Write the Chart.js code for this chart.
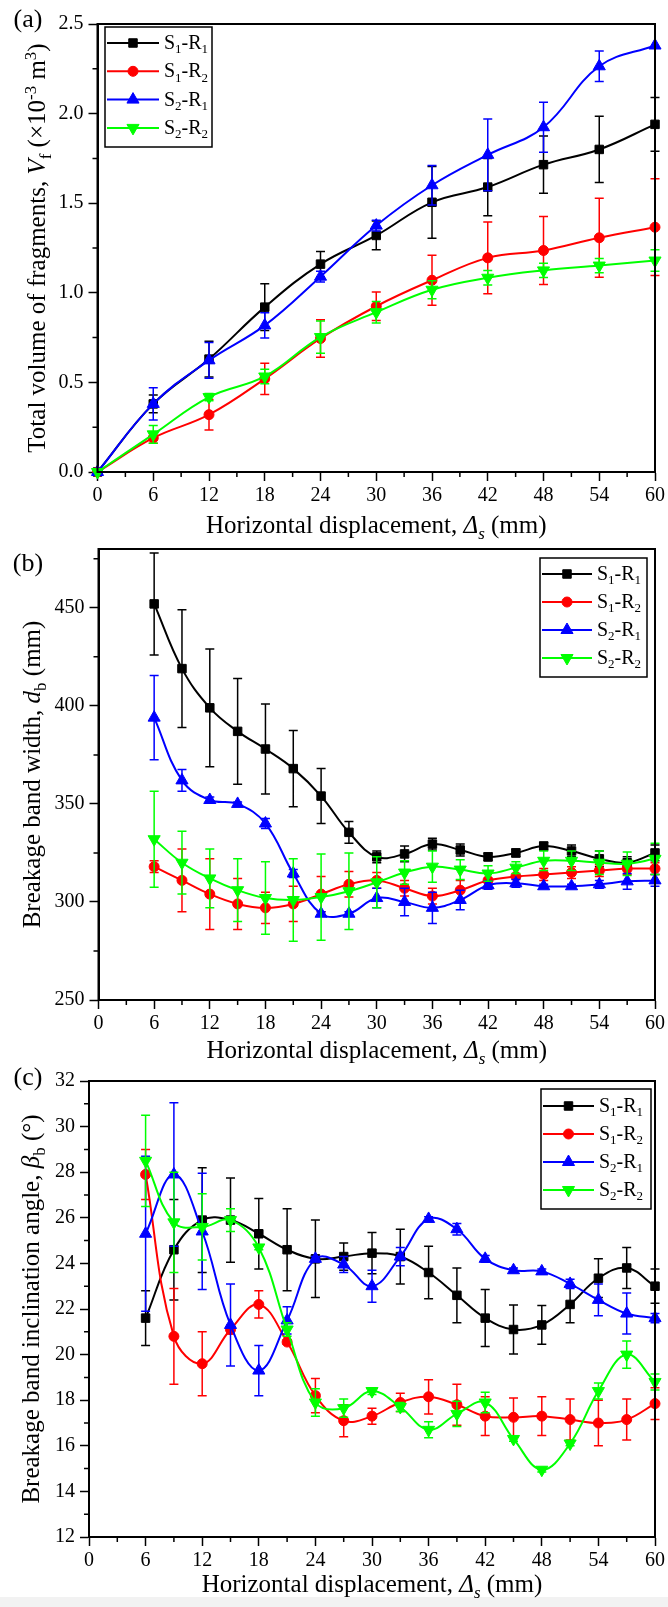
<!DOCTYPE html>
<html>
<head>
<meta charset="utf-8">
<script src="https://cdn.jsdelivr.net/npm/chart.js@4.4.0/dist/chart.umd.min.js"></script>
<style>
  html, body { margin: 0; padding: 0; background: #fff; }
  body { width: 668px; height: 1607px; position: relative; overflow: hidden; }
  canvas { position: absolute; left: 0; z-index: 1; }
  #foot { position: absolute; left: 0; top: 1597px; width: 668px; height: 10px; background: #f2f2f2; z-index: 0; }
</style>
</head>
<body>
<div id="foot"></div>
<canvas id="chartA" width="668" height="545" style="top:0px"></canvas>
<canvas id="chartB" width="668" height="545" style="top:525px"></canvas>
<canvas id="chartC" width="668" height="550" style="top:1057px"></canvas>
<script>
// -----------------------------
// Data
// -----------------------------
const xA = [0, 6, 12, 18, 24, 30, 36, 42, 48, 54, 60];
const xBC = [6, 9, 12, 15, 18, 21, 24, 27, 30, 33, 36, 39, 42, 45, 48, 51, 54, 57, 60];
const seriesNames = ['S1-R1', 'S1-R2', 'S2-R1', 'S2-R2'];

// (a) total volume of fragments (x10^-3 m^3)
const volS1R1 = [0, 0.38, 0.63, 0.92, 1.16, 1.32, 1.505, 1.59, 1.715, 1.80, 1.94];
const volS1R1Err = [0, 0.05, 0.10, 0.13, 0.07, 0.08, 0.20, 0.16, 0.16, 0.185, 0.15];
const volS1R2 = [0, 0.19, 0.32, 0.52, 0.745, 0.925, 1.07, 1.195, 1.236, 1.307, 1.366];
const volS1R2Err = [0, 0.03, 0.085, 0.087, 0.105, 0.08, 0.14, 0.20, 0.19, 0.22, 0.27];
const volS2R1 = [0, 0.38, 0.623, 0.818, 1.09, 1.375, 1.60, 1.77, 1.924, 2.264, 2.38];
const volS2R1Err = [0, 0.09, 0.10, 0.07, 0.03, 0.03, 0.11, 0.20, 0.14, 0.085, 0];
const volS2R2 = [0, 0.21, 0.418, 0.533, 0.753, 0.892, 1.017, 1.084, 1.125, 1.152, 1.18];
const volS2R2Err = [0, 0.05, 0.02, 0.04, 0.09, 0.06, 0.05, 0.04, 0.04, 0.04, 0.06];

// (b) breakage band width (mm)
const widS1R1 = [452, 419, 399, 387, 378, 368, 354, 335.5, 323, 324.5, 329.5, 326.5, 323, 325, 328.5, 326, 322, 320, 325];
const widS1R1Err = [26, 30, 30, 27, 23, 19.5, 14, 5.5, 3, 4, 3, 3, 2, 2, 2, 3, 4, 3, 4];
const widS1R2 = [318, 311, 304, 299, 297, 299, 304, 309, 311, 307, 303, 306, 311, 313, 314, 315, 316, 317, 317];
const widS1R2Err = [3, 16, 18, 13, 8, 9, 9, 6.5, 4, 4, 4, 5, 4, 4, 3, 3, 3, 3, 3];
const widS2R1 = [394, 362, 352, 350, 340, 314.5, 294, 294, 302, 300, 297, 301, 308.5, 309.5, 308, 308, 309, 310.5, 311];
const widS2R1Err = [21.5, 5.5, 1.5, 1, 2.5, 2, 1, 1, 5, 7, 8, 5, 2, 2, 1, 1, 2, 4, 3];
const widS2R2 = [332, 320, 312, 306, 302, 301, 302.5, 305.5, 310, 315, 318, 316.5, 314.5, 317.5, 321, 321, 320, 319.5, 322];
const widS2R2Err = [24.5, 16, 15, 16, 18.5, 21, 22, 19.5, 13, 6, 8, 5, 4, 3, 5, 5, 6, 6, 8];

// (c) breakage band inclination angle (deg)
const angS1R1 = [21.6, 24.6, 25.9, 25.9, 25.3, 24.6, 24.2, 24.3, 24.45, 24.3, 23.6, 22.6, 21.6, 21.1, 21.3, 22.2, 23.35, 23.8, 23.0];
const angS1R1Err = [1.2, 2.2, 2.3, 1.85, 1.55, 1.8, 1.7, 0.6, 0.9, 1.2, 1.15, 1.2, 1.25, 1.07, 0.85, 0.8, 0.85, 0.9, 0.75];
const angS1R2 = [27.9, 20.8, 19.6, 21.1, 22.2, 20.55, 18.2, 17.1, 17.3, 17.9, 18.15, 17.8, 17.3, 17.25, 17.3, 17.15, 17.0, 17.15, 17.85];
const angS1R2Err = [1.1, 2.1, 1.4, 0.2, 0.6, 0.1, 0.75, 0.7, 0.35, 0.4, 0.75, 0.9, 0.85, 0.85, 0.85, 0.9, 1.0, 0.9, 0.7];
const angS2R1 = [25.3, 27.9, 25.4, 21.3, 19.3, 21.5, 24.2, 23.95, 23.0, 24.3, 25.95, 25.5, 24.2, 23.7, 23.65, 23.1, 22.4, 21.8, 21.6];
const angS2R1Err = [3.4, 3.15, 2.55, 1.8, 1.1, 0.6, 0.1, 0.35, 0.7, 0.4, 0.1, 0.25, 0.15, 0.1, 0.1, 0.2, 0.7, 0.9, 0.2];
const angS2R2 = [28.5, 25.8, 25.6, 25.9, 24.7, 21.1, 17.9, 17.65, 18.4, 17.7, 16.7, 17.4, 17.9, 16.3, 14.95, 16.1, 18.4, 20.0, 18.8];
const angS2R2Err = [2.0, 2.2, 1.45, 0.5, 0.1, 0.3, 0.6, 0.4, 0.15, 0.2, 0.35, 0.55, 0.45, 0.1, 0.1, 0.1, 0.35, 0.6, 0.35];

// -----------------------------
// Styles
// -----------------------------
const serif = '"Liberation Serif", "Times New Roman", serif';
const styles = [
  { color: '#000000', shape: 'rect', r: 6, rot: 0 },
  { color: '#ff0000', shape: 'circle', r: 5, rot: 0 },
  { color: '#0000ff', shape: 'triangle', r: 7, rot: 0 },
  { color: '#00ff00', shape: 'triangle', r: 7, rot: 180 }
];

// rich text: [text, style] with style n | i | sub | subi | sup
function partFont(p, size) {
  const small = p[1] === 'sub' || p[1] === 'sup' || p[1] === 'subi';
  const it = p[1] === 'i' || p[1] === 'subi';
  return (it ? 'italic ' : '') + (small ? Math.round(size * 0.66) : size) + 'px ' + serif;
}
function richWidth(ctx, parts, size) {
  let w = 0;
  parts.forEach(p => { ctx.font = partFont(p, size); w += ctx.measureText(p[0]).width; });
  return w;
}
function drawRich(ctx, parts, size, x, y) {
  parts.forEach(p => {
    ctx.font = partFont(p, size);
    let dy = 0;
    if (p[1] === 'sub' || p[1] === 'subi') dy = size * 0.22;
    if (p[1] === 'sup') dy = -size * 0.38;
    ctx.fillText(p[0], x, y + dy);
    x += ctx.measureText(p[0]).width;
  });
}
function drawRichCentered(ctx, parts, size, cx, cy, vertical) {
  ctx.save();
  ctx.translate(cx, cy);
  if (vertical) ctx.rotate(-Math.PI / 2);
  ctx.textAlign = 'left';
  ctx.textBaseline = 'alphabetic';
  const w = richWidth(ctx, parts, size);
  drawRich(ctx, parts, size, -w / 2, size * 0.33);
  ctx.restore();
}

function drawMarker(ctx, st, x, y) {
  ctx.fillStyle = st.color;
  ctx.strokeStyle = st.color;
  ctx.lineWidth = 1;
  ctx.beginPath();
  if (st.shape === 'rect') {
    const h = st.r * Math.SQRT1_2;
    ctx.rect(x - h, y - h, 2 * h, 2 * h);
  } else if (st.shape === 'circle') {
    ctx.arc(x, y, st.r, 0, Math.PI * 2);
  } else {
    let rad = st.rot * Math.PI / 180;
    for (let k = 0; k < 3; k++) {
      const px = x + Math.sin(rad) * st.r, py = y - Math.cos(rad) * st.r;
      if (k === 0) ctx.moveTo(px, py); else ctx.lineTo(px, py);
      rad += Math.PI * 2 / 3;
    }
    ctx.closePath();
  }
  ctx.fill();
  ctx.stroke();
}

// -----------------------------
// Panel plugin: error bars, frame, minor ticks, titles, legend
// -----------------------------
const panelPlugin = {
  id: 'panel',
  beforeDatasetDraw(chart, args) {
    const ds = chart.data.datasets[args.index];
    const { ctx } = chart;
    const xs = chart.scales.x, ys = chart.scales.y;
    ctx.save();
    ctx.strokeStyle = ds.borderColor;
    ctx.lineWidth = 1.5;
    ctx.beginPath();
    ds.data.forEach((pt, j) => {
      const e = ds.errors[j];
      if (!e) return;
      const px = xs.getPixelForValue(pt.x);
      const y1 = ys.getPixelForValue(pt.y + e);
      const y2 = ys.getPixelForValue(pt.y - e);
      ctx.moveTo(px, y1); ctx.lineTo(px, y2);
      ctx.moveTo(px - 4.5, y1); ctx.lineTo(px + 4.5, y1);
      ctx.moveTo(px - 4.5, y2); ctx.lineTo(px + 4.5, y2);
    });
    ctx.stroke();
    ctx.restore();
  },
  afterDraw(chart) {
    const o = chart.options.plugins.panel;
    const { ctx, chartArea: a } = chart;
    const xs = chart.scales.x, ys = chart.scales.y;
    ctx.save();
    ctx.strokeStyle = '#000';
    ctx.lineWidth = 2;
    ctx.strokeRect(a.left, a.top, a.right - a.left, a.bottom - a.top);

    // minor ticks
    ctx.lineWidth = 1.5;
    ctx.beginPath();
    o.xMinor.forEach(v => {
      const px = xs.getPixelForValue(v);
      ctx.moveTo(px, a.bottom); ctx.lineTo(px, a.bottom + 5);
    });
    o.yMinor.forEach(v => {
      const py = ys.getPixelForValue(v);
      ctx.moveTo(a.left, py); ctx.lineTo(a.left - 5, py);
    });
    ctx.stroke();

    ctx.fillStyle = '#000';
    drawRichCentered(ctx, xTitle, 25, (a.left + a.right) / 2, o.xTitleY, false);
    drawRichCentered(ctx, o.yTitle, 25, o.yTitleX, (a.top + a.bottom) / 2, true);

    ctx.font = '26px ' + serif;
    ctx.textAlign = 'center';
    ctx.textBaseline = 'middle';
    ctx.fillText(o.tag, o.tagX, o.tagY);

    // legend
    const L = o.legend;
    ctx.lineWidth = 1.5;
    ctx.strokeStyle = '#000';
    ctx.strokeRect(L.x, L.y, L.w, L.h);
    seriesNames.forEach((name, i) => {
      const st = styles[i];
      const ry = L.y + L.first + i * L.gap;
      ctx.strokeStyle = st.color;
      ctx.lineWidth = 2;
      ctx.beginPath();
      ctx.moveTo(L.x + 2, ry); ctx.lineTo(L.x + L.line, ry);
      ctx.stroke();
      drawMarker(ctx, st, L.x + 2 + (L.line - 2) / 2, ry);
      ctx.fillStyle = '#000';
      ctx.textAlign = 'left';
      ctx.textBaseline = 'alphabetic';
      const bits = name.split('-');
      const parts = [[bits[0][0], 'n'], [bits[0].slice(1), 'sub'], ['-' + bits[1][0], 'n'], [bits[1].slice(1), 'sub']];
      drawRich(ctx, parts, 20, L.x + L.line + 5, ry + 6);
    });
    ctx.restore();
  }
};

const xTitle = [['Horizontal displacement, ', 'n'], ['\u0394', 'i'], ['s', 'subi'], [' (mm)', 'n']];

function minorTicks(min, max, step) {
  const out = [];
  for (let v = min + step / 2; v < max; v += step) out.push(+v.toFixed(4));
  return out;
}

function makePanel(id, p) {
  const ys = [p.y1, p.y2, p.y3, p.y4];
  const es = [p.e1, p.e2, p.e3, p.e4];
  const datasets = seriesNames.map((name, i) => ({
    label: name,
    data: p.x.map((xv, j) => ({ x: xv, y: ys[i][j] })),
    errors: es[i],
    borderColor: styles[i].color,
    backgroundColor: styles[i].color,
    pointBackgroundColor: styles[i].color,
    pointBorderColor: styles[i].color,
    pointStyle: styles[i].shape,
    pointRotation: styles[i].rot,
    pointRadius: styles[i].r,
    pointBorderWidth: 1,
    borderWidth: 2,
    tension: 0.4,
    clip: false,
    order: 3 - i
  }));
  const tickFont = { family: serif, size: 20 };
  return new Chart(document.getElementById(id), {
    type: 'line',
    data: { datasets },
    options: {
      responsive: false,
      animation: false,
      layout: { padding: { top: p.padTop, right: p.padRight, left: 0, bottom: 0 } },
      plugins: {
        legend: { display: false },
        tooltip: { enabled: false },
        panel: p.deco
      },
      scales: {
        x: {
          type: 'linear', min: 0, max: 60,
          ticks: { stepSize: 6, font: tickFont, color: '#000', padding: 3, maxRotation: 0, includeBounds: false },
          grid: { drawOnChartArea: false, drawTicks: true, tickLength: 9, tickWidth: 1.5, tickColor: '#000' },
          border: { display: true, color: '#000', width: 2 },
          afterFit(s) { s.height = p.xAxisH; }
        },
        y: {
          type: 'linear', min: p.yMin, max: p.yMax,
          ticks: { stepSize: p.yStep, font: tickFont, color: '#000', padding: 5, includeBounds: false,
                   callback: p.yFmt || (v => v) },
          grid: { drawOnChartArea: false, drawTicks: true, tickLength: 9, tickWidth: 1.5, tickColor: '#000' },
          border: { display: true, color: '#000', width: 2 },
          afterFit(s) { s.width = p.yAxisW; }
        }
      }
    },
    plugins: [panelPlugin]
  });
}

// (a)
makePanel('chartA', {
  x: xA, y1: volS1R1, y2: volS1R2, y3: volS2R1, y4: volS2R2,
  e1: volS1R1Err, e2: volS1R2Err, e3: volS2R1Err, e4: volS2R2Err,
  yMin: 0, yMax: 2.5, yStep: 0.5, yFmt: v => v.toFixed(1),
  padTop: 24, padRight: 12, yAxisW: 97.5, xAxisH: 73,
  deco: {
    xMinor: minorTicks(0, 60, 6), yMinor: minorTicks(0, 2.5, 0.5),
    xTitleY: 525, yTitleX: 37,
    yTitle: [['Total volume of fragments, ', 'n'], ['V', 'i'], ['f', 'sub'], [' (\u00d710', 'n'], ['-3', 'sup'], [' m', 'n'], ['3', 'sup'], [')', 'n']],
    tag: '(a)', tagX: 28, tagY: 20,
    legend: { x: 105, y: 27, w: 107, h: 120, first: 16, gap: 28.3, line: 54 }
  }
});

// (b)
makePanel('chartB', {
  x: xBC, y1: widS1R1, y2: widS1R2, y3: widS2R1, y4: widS2R2,
  e1: widS1R1Err, e2: widS1R2Err, e3: widS2R1Err, e4: widS2R2Err,
  yMin: 250, yMax: 480, yStep: 50,
  padTop: 24, padRight: 13, yAxisW: 98.5, xAxisH: 70,
  deco: {
    xMinor: minorTicks(0, 60, 6), yMinor: minorTicks(250, 480, 50),
    xTitleY: 525, yTitleX: 32,
    yTitle: [['Breakage band width, ', 'n'], ['d', 'i'], ['b', 'sub'], [' (mm)', 'n']],
    tag: '(b)', tagX: 28, tagY: 39,
    legend: { x: 540, y: 33, w: 107, h: 119, first: 16, gap: 28, line: 52 }
  }
});

// (c)
makePanel('chartC', {
  x: xBC, y1: angS1R1, y2: angS1R2, y3: angS2R1, y4: angS2R2,
  e1: angS1R1Err, e2: angS1R2Err, e3: angS2R1Err, e4: angS2R2Err,
  yMin: 12, yMax: 32, yStep: 2,
  padTop: 24, padRight: 13, yAxisW: 89, xAxisH: 70,
  deco: {
    xMinor: minorTicks(0, 60, 6), yMinor: minorTicks(12, 32, 2),
    xTitleY: 527, yTitleX: 31,
    yTitle: [['Breakage band inclination angle, ', 'n'], ['\u03b2', 'i'], ['b', 'sub'], [' (\u00b0)', 'n']],
    tag: '(c)', tagX: 28, tagY: 21,
    legend: { x: 541, y: 32, w: 110, h: 120, first: 17, gap: 28, line: 53 }
  }
});
</script>
</body>
</html>
